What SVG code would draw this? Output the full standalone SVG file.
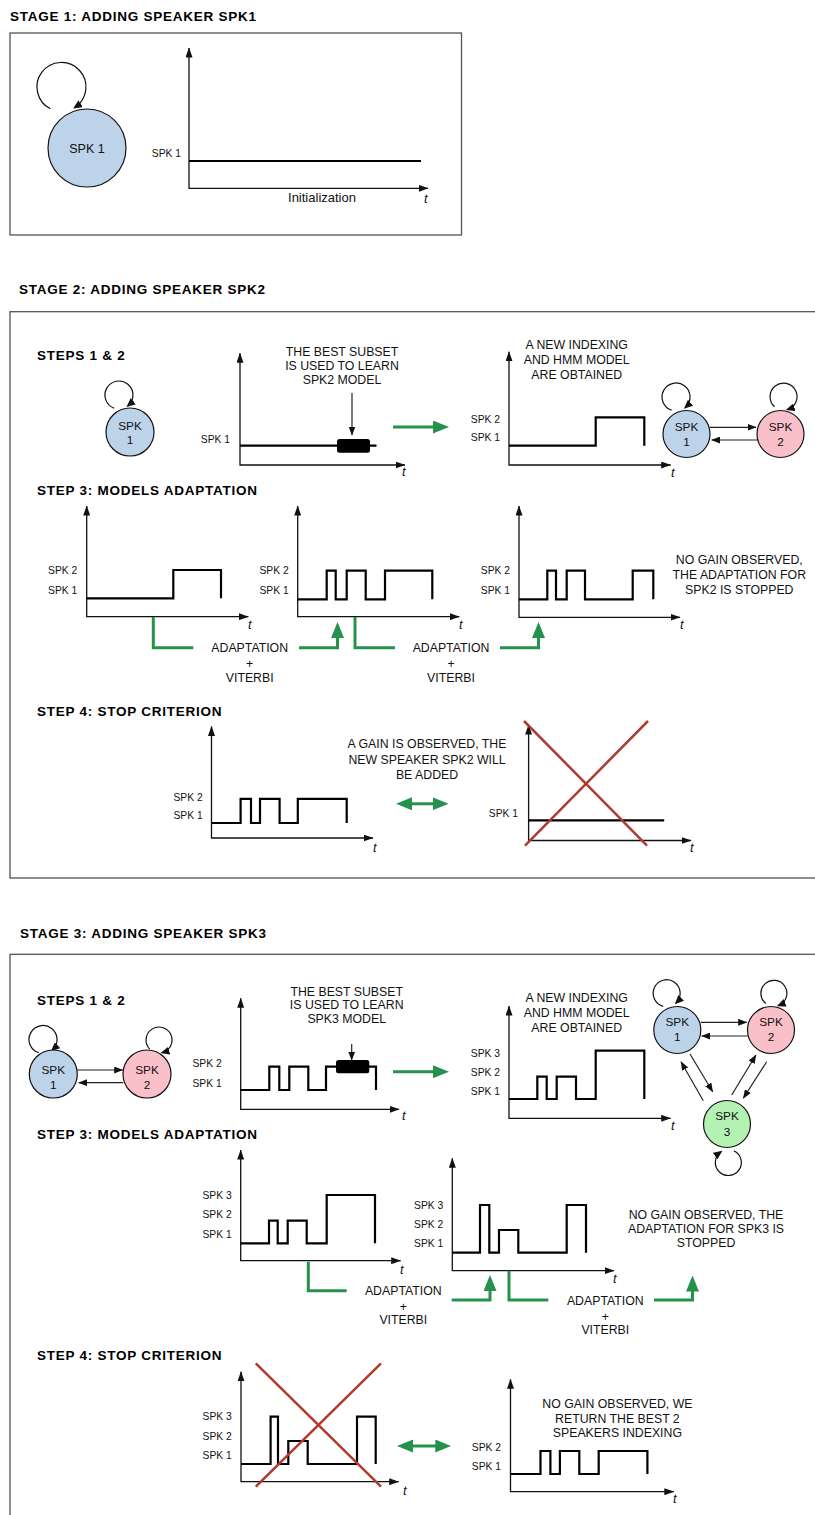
<svg xmlns="http://www.w3.org/2000/svg" width="815" height="1515" viewBox="0 0 815 1515">
  <defs>
    <style>
      .ttl { font-family: "Liberation Sans", Arial, sans-serif; font-weight: bold; font-size: 13.5px; letter-spacing: 0.75px; fill: #000; }
      .lbl { font-family: "Liberation Sans", Arial, sans-serif; font-size: 10.3px; text-anchor: end; fill: #111; }
      .ann { font-family: "Liberation Sans", Arial, sans-serif; font-size: 12.3px; text-anchor: middle; fill: #111; }
      .nd { font-family: "Liberation Sans", Arial, sans-serif; font-size: 11.8px; text-anchor: middle; fill: #111; }
      .tt { font-family: "Liberation Sans", Arial, sans-serif; font-style: italic; font-size: 13px; fill: #111; }
      .box { fill: none; stroke: #555; stroke-width: 1.3; }
      .axis { fill: none; stroke: #111; stroke-width: 1.3; marker-start: url(#ah); marker-end: url(#ah); }
      .sig { fill: none; stroke: #000; stroke-width: 2.2; stroke-linejoin: miter; }
      .grn { fill: none; stroke: #24924d; stroke-width: 3; }
      .gend { marker-end: url(#ag); }
      .gboth { marker-start: url(#ag); marker-end: url(#ag); }
      .cross { stroke: #b03a2e; stroke-width: 2.5; }
      .edge { fill: none; stroke: #222; stroke-width: 1.2; marker-end: url(#an); }
      .loop { fill: none; stroke: #111; stroke-width: 1.2; marker-end: url(#al); }
      .n1 { fill: #bcd3ea; stroke: #111; stroke-width: 1.2; }
      .n2 { fill: #f9c0c9; stroke: #111; stroke-width: 1.2; }
      .n3 { fill: #b4f2b4; stroke: #111; stroke-width: 1.2; }
    </style>
    <marker id="ah" viewBox="0 0 10 7" refX="9.5" refY="3.5" markerWidth="10" markerHeight="7" markerUnits="userSpaceOnUse" orient="auto-start-reverse">
      <path d="M0,0 L10,3.5 L0,7 z" fill="#111"/>
    </marker>
    <marker id="an" viewBox="0 0 9 7" refX="8.5" refY="3.5" markerWidth="9" markerHeight="7" markerUnits="userSpaceOnUse" orient="auto">
      <path d="M0,0 L9,3.5 L0,7 z" fill="#111"/>
    </marker>
    <marker id="al" viewBox="0 0 9 8" refX="7" refY="4" markerWidth="9" markerHeight="8" markerUnits="userSpaceOnUse" orient="auto">
      <path d="M0,0 L9,4 L0,8 z" fill="#111"/>
    </marker>
    <marker id="ag" viewBox="0 0 16 13" refX="1" refY="6.5" markerWidth="16" markerHeight="13" markerUnits="userSpaceOnUse" orient="auto-start-reverse">
      <path d="M0,0 L16,6.5 L0,13 z" fill="#24924d"/>
    </marker>
  </defs>

  <rect width="815" height="1515" fill="#fff"/>

  <!-- ===== Stage 1 ===== -->
  <text class="ttl" x="10" y="20.7">STAGE 1: ADDING SPEAKER SPK1</text>
  <rect class="box" x="10" y="33" width="451.5" height="202"/>

  <g id="s1-spk1">
    <path class="loop" d="M50.4 108.8 A24.5 24.5 0 1 1 74.8 107.5"/>
    <circle class="n1" cx="87" cy="148" r="39"/>
    <text class="nd" x="87" y="152.6" style="font-size:12.5px">SPK 1</text>
  </g>

  <g id="s1-chart">
    <path class="axis" d="M189 48 V188.3 H428"/>
    <text class="lbl" x="181" y="156.5">SPK 1</text>
    <path class="sig" d="M189 161 H421"/>
    <text class="ann" x="322" y="201.5" style="font-size:13px">Initialization</text>
    <text class="tt" x="424" y="203">t</text>
  </g>

  <!-- ===== Stage 2 ===== -->
  <text class="ttl" x="19" y="293.5">STAGE 2: ADDING SPEAKER SPK2</text>
  <rect class="box" x="10" y="311.7" width="820" height="566.3"/>

  <!-- Steps 1 & 2 -->
  <text class="ttl" x="37" y="360">STEPS 1 &amp; 2</text>

  <g id="s2-spk1-a">
    <path class="loop" d="M114.2 408.2 A14 14 0 1 1 128 405.7"/>
    <circle class="n1" cx="130" cy="432" r="24"/>
    <text class="nd" x="130" y="430.2">SPK</text>
    <text class="nd" x="130" y="443.6">1</text>
  </g>

  <g id="s2-chart-subset">
    <path class="axis" d="M240 353.3 V465 H405"/>
    <text class="lbl" x="230" y="442.5">SPK 1</text>
    <path class="sig" d="M240 445.7 H376.5"/>
    <rect x="337" y="439" width="33" height="13.7" rx="2.5" fill="#000"/>
    <path class="edge" d="M352 393 V435"/>
    <text class="ann" x="342" y="356.4">THE BEST SUBSET</text>
    <text class="ann" x="342" y="370.4">IS USED TO LEARN</text>
    <text class="ann" x="342" y="384.4">SPK2 MODEL</text>
    <text class="tt" x="402" y="476">t</text>
  </g>

  <g id="s2-chart-new">
    <path class="axis" d="M509 351.7 V465 H670.7"/>
    <text class="lbl" x="500" y="422.5">SPK 2</text>
    <text class="lbl" x="500" y="441.3">SPK 1</text>
    <path class="sig" d="M509 445.7 H595.7 V417.3 H644.3 V445.7"/>
    <text class="ann" x="576.7" y="349.4">A NEW INDEXING</text>
    <text class="ann" x="576.7" y="364.4">AND HMM MODEL</text>
    <text class="ann" x="576.7" y="379.4">ARE OBTAINED</text>
    <text class="tt" x="671" y="477">t</text>
  </g>

  <g id="s2-spk1-b">
    <path class="loop" d="M671.7 410.3 A14 14 0 1 1 685.4 407.4"/>
    <circle class="n1" cx="686.5" cy="434" r="23.5"/>
    <text class="nd" x="686.5" y="431">SPK</text>
    <text class="nd" x="686.5" y="446">1</text>
  </g>
  <g id="s2-spk2-b">
    <path class="loop" d="M774.5 406.7 A13.5 13.5 0 1 1 787.7 409.5"/>
    <circle class="n2" cx="780.5" cy="434" r="23.5"/>
    <text class="nd" x="780.5" y="431">SPK</text>
    <text class="nd" x="780.5" y="446">2</text>
  </g>

  <!-- Step 3 -->
  <text class="ttl" x="37" y="495">STEP 3: MODELS ADAPTATION</text>

  <g id="s2-chart-a">
    <path class="axis" d="M86.7 506 V616.7 H248.3"/>
    <text class="lbl" x="77.3" y="574.3">SPK 2</text>
    <text class="lbl" x="77.3" y="593.6">SPK 1</text>
    <path class="sig" d="M86.7 598.3 H173.3 V570 H221 V598.3"/>
    <text class="tt" x="248" y="629">t</text>
  </g>
  <g id="s2-chart-b">
    <path class="axis" d="M297.7 506 V616.7 H459.3"/>
    <text class="lbl" x="288.7" y="574.3">SPK 2</text>
    <text class="lbl" x="288.7" y="593.6">SPK 1</text>
    <path class="sig" d="M297.7 599.3 H326.7 V570.7 H335.7 V599.3 H346.7 V570.7 H365.7 V599.3 H385 V570.7 H432.3 V599.3"/>
    <text class="tt" x="459" y="629">t</text>
  </g>
  <g id="s2-chart-c">
    <path class="axis" d="M519 506 V617.3 H680"/>
    <text class="lbl" x="510" y="574.3">SPK 2</text>
    <text class="lbl" x="510" y="593.6">SPK 1</text>
    <path class="sig" d="M519 599.3 H547.3 V570.7 H556 V599.3 H566.7 V570.7 H585 V599.3 H632.7 V570.7 H653.3 V599.3"/>
    <text class="tt" x="680" y="629">t</text>
  </g>
  <g id="s2-note-stop">
    <text class="ann" x="739.3" y="564.4">NO GAIN OBSERVED,</text>
    <text class="ann" x="739.3" y="579.4">THE ADAPTATION FOR</text>
    <text class="ann" x="739.3" y="594.4">SPK2 IS STOPPED</text>
  </g>
  <g id="s2-adapt-1">
    <text class="ann" x="249.7" y="652">ADAPTATION</text>
    <text class="ann" x="249.7" y="667.7">+</text>
    <text class="ann" x="249.7" y="682">VITERBI</text>
  </g>
  <g id="s2-adapt-2">
    <text class="ann" x="451" y="652">ADAPTATION</text>
    <text class="ann" x="451" y="667.7">+</text>
    <text class="ann" x="451" y="682">VITERBI</text>
  </g>

  <!-- Step 4 -->
  <text class="ttl" x="37" y="715.7">STEP 4: STOP CRITERION</text>

  <g id="s2-chart-d">
    <path class="axis" d="M211.5 726.4 V838 H373"/>
    <text class="lbl" x="202.7" y="800.6">SPK 2</text>
    <text class="lbl" x="202.7" y="818.6">SPK 1</text>
    <path class="sig" d="M211.5 823 H240.6 V798.8 H251 V823 H260 V798.8 H279.6 V823 H297.8 V798.8 H346.7 V823"/>
    <text class="tt" x="373" y="851.5">t</text>
  </g>
  <g id="s2-note-gain">
    <text class="ann" x="427" y="748.4">A GAIN IS OBSERVED, THE</text>
    <text class="ann" x="427" y="764">NEW SPEAKER SPK2 WILL</text>
    <text class="ann" x="427" y="779">BE ADDED</text>
  </g>
  <g id="s2-chart-e">
    <path class="axis" d="M528.6 725 V840.5 H691"/>
    <text class="lbl" x="518" y="816.6">SPK 1</text>
    <path class="sig" d="M528.6 820.3 H664.2"/>
    <text class="tt" x="690" y="851.5">t</text>
    <line class="cross" x1="524" y1="721" x2="647" y2="845.6"/>
    <line class="cross" x1="648" y1="721" x2="525" y2="845.6"/>
  </g>

  <!-- ===== Stage 3 ===== -->
  <text class="ttl" x="20" y="938">STAGE 3: ADDING SPEAKER SPK3</text>
  <rect class="box" x="10" y="954.3" width="820" height="600"/>

  <!-- Steps 1 & 2 -->
  <text class="ttl" x="37" y="1005">STEPS 1 &amp; 2</text>

  <g id="s3-spk1-a">
    <path class="loop" d="M38.7 1052.8 A14 14 0 1 1 52.4 1049.9"/>
    <circle class="n1" cx="53.3" cy="1074" r="24"/>
    <text class="nd" x="53.3" y="1074.2">SPK</text>
    <text class="nd" x="53.3" y="1088.5">1</text>
  </g>
  <g id="s3-spk2-a">
    <path class="loop" d="M149.8 1049.2 A13 13 0 1 1 162.4 1052.6"/>
    <circle class="n2" cx="147" cy="1074" r="24"/>
    <text class="nd" x="147" y="1074.2">SPK</text>
    <text class="nd" x="147" y="1088.5">2</text>
  </g>

  <g id="s3-chart-subset">
    <path class="axis" d="M240.7 998.3 V1109.3 H399"/>
    <text class="lbl" x="221.7" y="1067">SPK 2</text>
    <text class="lbl" x="221.7" y="1087">SPK 1</text>
    <path class="sig" d="M240.7 1090 H269.3 V1066.7 H279.3 V1090 H289.3 V1066.7 H308.3 V1090 H326 V1066.7 H376 V1090"/>
    <rect x="336" y="1060" width="33.3" height="13.3" rx="2.5" fill="#000"/>
    <path class="edge" d="M351.7 1044 V1060"/>
    <text class="ann" x="346.7" y="995.5">THE BEST SUBSET</text>
    <text class="ann" x="346.7" y="1009">IS USED TO LEARN</text>
    <text class="ann" x="346.7" y="1022.5">SPK3 MODEL</text>
    <text class="tt" x="402" y="1120">t</text>
  </g>

  <g id="s3-chart-new">
    <path class="axis" d="M509 1006 V1118.3 H670.7"/>
    <text class="lbl" x="500" y="1057">SPK 3</text>
    <text class="lbl" x="500" y="1076">SPK 2</text>
    <text class="lbl" x="500" y="1095.4">SPK 1</text>
    <path class="sig" d="M509 1099 H537.3 V1076.7 H546.7 V1099 H556.7 V1076.7 H576 V1099 H595.7 V1050.7 H644.3 V1099"/>
    <text class="ann" x="576.7" y="1002">A NEW INDEXING</text>
    <text class="ann" x="576.7" y="1017">AND HMM MODEL</text>
    <text class="ann" x="576.7" y="1032">ARE OBTAINED</text>
    <text class="tt" x="671" y="1129.5">t</text>
  </g>

  <g id="s3-spk1-b">
    <path class="loop" d="M663.2 1006.3 A13.5 13.5 0 1 1 676.2 1002.8"/>
    <circle class="n1" cx="677.3" cy="1030" r="23.5"/>
    <text class="nd" x="677.3" y="1026">SPK</text>
    <text class="nd" x="677.3" y="1041">1</text>
  </g>
  <g id="s3-spk2-b">
    <path class="loop" d="M765.8 1003.5 A13 13 0 1 1 778.7 1005.4"/>
    <circle class="n2" cx="771" cy="1030" r="23.5"/>
    <text class="nd" x="771" y="1026">SPK</text>
    <text class="nd" x="771" y="1041">2</text>
  </g>
  <g id="s3-spk3-b">
    <path class="loop" d="M733.8 1150.7 A13 13 0 1 1 720.8 1151.9"/>
    <circle class="n3" cx="727" cy="1124" r="23.5"/>
    <text class="nd" x="727" y="1120.3">SPK</text>
    <text class="nd" x="727" y="1136">3</text>
  </g>

  <!-- Step 3 -->
  <text class="ttl" x="37" y="1139">STEP 3: MODELS ADAPTATION</text>

  <g id="s3-chart-a">
    <path class="axis" d="M240.7 1150 V1260.7 H400.7"/>
    <text class="lbl" x="231.7" y="1199.4">SPK 3</text>
    <text class="lbl" x="231.7" y="1218">SPK 2</text>
    <text class="lbl" x="231.7" y="1237.7">SPK 1</text>
    <path class="sig" d="M240.7 1243.3 H269 V1220.7 H277.7 V1243.3 H287.7 V1220.7 H306.7 V1243.3 H326.7 V1195 H375 V1243.3"/>
    <text class="tt" x="400" y="1274">t</text>
  </g>
  <g id="s3-chart-b">
    <path class="axis" d="M452.3 1158.3 V1270.7 H614"/>
    <text class="lbl" x="443.3" y="1208.7">SPK 3</text>
    <text class="lbl" x="443.3" y="1228">SPK 2</text>
    <text class="lbl" x="443.3" y="1247">SPK 1</text>
    <path class="sig" d="M452.3 1252.7 H480 V1205 H489.3 V1252.7 H499 V1230 H518.3 V1252.7 H566.7 V1205 H586 V1252.7"/>
    <text class="tt" x="613" y="1283">t</text>
  </g>
  <g id="s3-note-stop">
    <text class="ann" x="706" y="1218.6">NO GAIN OBSERVED, THE</text>
    <text class="ann" x="706" y="1232.6">ADAPTATION FOR SPK3 IS</text>
    <text class="ann" x="706" y="1246.6">STOPPED</text>
  </g>
  <g id="s3-adapt-1">
    <text class="ann" x="403.3" y="1295">ADAPTATION</text>
    <text class="ann" x="403.3" y="1311">+</text>
    <text class="ann" x="403.3" y="1324.4">VITERBI</text>
  </g>
  <g id="s3-adapt-2">
    <text class="ann" x="605.3" y="1305.4">ADAPTATION</text>
    <text class="ann" x="605.3" y="1321">+</text>
    <text class="ann" x="605.3" y="1334.4">VITERBI</text>
  </g>

  <!-- Step 4 -->
  <text class="ttl" x="37" y="1359.5">STEP 4: STOP CRITERION</text>

  <g id="s3-chart-c">
    <path class="axis" d="M241 1371.7 V1481.7 H398.7"/>
    <text class="lbl" x="231.8" y="1420.4">SPK 3</text>
    <text class="lbl" x="231.8" y="1439.7">SPK 2</text>
    <text class="lbl" x="231.8" y="1459.4">SPK 1</text>
    <path class="sig" d="M241 1464 H270.6 V1416.7 H278 V1464 H288.3 V1441 H307.7 V1464 H357 V1416.7 H375.7 V1464"/>
    <text class="tt" x="403" y="1495">t</text>
    <line class="cross" x1="255.8" y1="1363.3" x2="381" y2="1486.7"/>
    <line class="cross" x1="381" y1="1363.3" x2="255.8" y2="1486.7"/>
  </g>
  <g id="s3-chart-d">
    <path class="axis" d="M510.5 1379.3 V1491.7 H673.8"/>
    <text class="lbl" x="501" y="1451">SPK 2</text>
    <text class="lbl" x="501" y="1470.4">SPK 1</text>
    <path class="sig" d="M510.5 1474 H540.5 V1451 H550.4 V1474 H559.9 V1451 H579.3 V1474 H598.7 V1451 H647.4 V1474"/>
    <text class="ann" x="617.4" y="1408.4">NO GAIN OBSERVED, WE</text>
    <text class="ann" x="617.4" y="1423">RETURN THE BEST 2</text>
    <text class="ann" x="617.4" y="1437.4">SPEAKERS INDEXING</text>
    <text class="tt" x="673" y="1503">t</text>
  </g>

  <!-- ===== Connectors ===== -->
  <g id="connectors">
    <!-- stage 2 state transitions -->
    <path class="edge" d="M710 427.3 H756"/>
    <path class="edge" d="M757 440 H711.7"/>
    <!-- stage 3 state transitions -->
    <path class="edge" d="M77.3 1070 H122.7"/>
    <path class="edge" d="M123.3 1082.7 H78.7"/>
    <path class="edge" d="M700.7 1022.3 H746.7"/>
    <path class="edge" d="M747.7 1036 H701.7"/>
    <path class="edge" d="M690 1054 L712.7 1091.7"/>
    <path class="edge" d="M703.3 1100.7 L681 1061.7"/>
    <path class="edge" d="M731.7 1095 L756 1055"/>
    <path class="edge" d="M766.7 1061.7 L743.3 1098.3"/>

    <!-- process arrows -->
    <path class="grn gend" d="M393 427 H434"/>
    <path class="grn" d="M153.3 617 V647.7 H193.3"/>
    <path class="grn gend" d="M299 647.7 H337.5 V637"/>
    <path class="grn" d="M355 617 V647.7 H395"/>
    <path class="grn gend" d="M500 647.7 H538.5 V637"/>
    <path class="grn gboth" d="M411 803.8 H433.6"/>

    <path class="grn gend" d="M393 1071.7 H434"/>
    <path class="grn" d="M308.3 1261.7 V1290.7 H346.7"/>
    <path class="grn gend" d="M451.7 1300 H490 V1290"/>
    <path class="grn" d="M509 1270.7 V1300 H548.3"/>
    <path class="grn gend" d="M654 1300 H692.5 V1290.5"/>
    <path class="grn gboth" d="M412 1446 H436.3"/>
  </g>
</svg>
